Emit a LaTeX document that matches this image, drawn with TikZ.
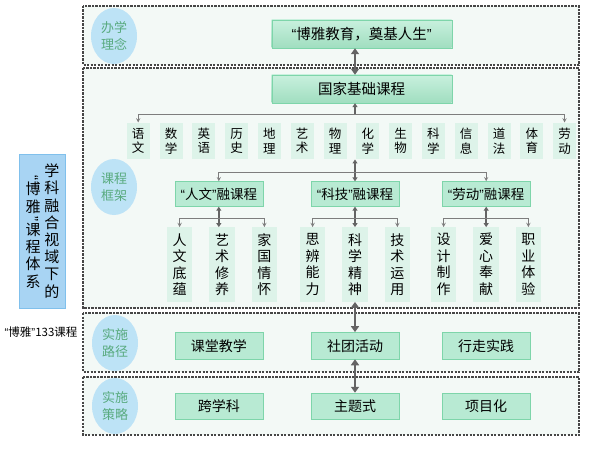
\documentclass[tikz,border=0pt]{standalone}
\usepackage{fontspec}
\setmainfont{Noto Sans CJK SC}
\newfontfamily\quotefont{Liberation Sans}
\usetikzlibrary{shapes.geometric, arrows.meta, positioning}
\definecolor{panelbg}{RGB}{243, 249, 246}
\definecolor{panelline}{RGB}{70, 70, 70}
\definecolor{boxfill}{RGB}{184, 234, 211}
\definecolor{boxline}{RGB}{126, 213, 170}
\definecolor{toplight}{RGB}{200, 240, 221}
\definecolor{topdark}{RGB}{160, 222, 192}
\definecolor{itemfill}{RGB}{221, 243, 233}
\definecolor{bubblefill}{RGB}{189, 227, 246}
\definecolor{bubbletext}{RGB}{88, 170, 126}
\definecolor{labelfill}{RGB}{168, 212, 243}
\definecolor{labelline}{RGB}{128, 192, 236}
\definecolor{linkgray}{RGB}{125, 125, 125}
\definecolor{fatgray}{RGB}{100, 100, 100}
\newcommand{\qopen}{{\quotefont “}}
\newcommand{\qclose}{{\quotefont ”}}

\begin{document}
\begin{tikzpicture}[
			x=1pt, y=-1pt,
			panel/.style={draw=panelline, fill=panelbg, line width=1.3pt, dash pattern=on 2.4pt off 1.1pt},
			bubble/.style={ellipse, fill=bubblefill, text=bubbletext, minimum width=46pt, minimum height=56pt, inner sep=0pt, align=center, font=\fontsize{13}{16.5}\selectfont},
			headbox/.style={rectangle, draw=boxline, top color=toplight, bottom color=topdark, minimum width=180pt, minimum height=28pt, inner sep=0pt, font=\fontsize{14.5}{16}\selectfont},
			fusebox/.style={rectangle, draw=boxline, fill=boxfill, minimum width=88pt, minimum height=25pt, inner sep=0pt, font=\fontsize{13.5}{16}\selectfont},
			pathbox/.style={fusebox, minimum height=26.7pt, font=\fontsize{14}{16}\selectfont},
			subject/.style={rectangle, fill=itemfill, minimum width=23pt, minimum height=36.6pt, inner sep=0pt, align=center, font=\fontsize{12.5}{14.5}\selectfont},
			itembox/.style={rectangle, fill=itemfill, minimum width=25.5pt, minimum height=74.4pt, inner sep=0pt, align=center, font=\fontsize{14}{16.5}\selectfont},
			link/.style={draw=linkgray, line width=0.9pt, ->, >=stealth},
			mid/.style={draw=fatgray, line width=1.6pt, {Triangle[length=4pt, width=5pt]}-{Triangle[length=4pt, width=5pt]}},
			midup/.style={draw=fatgray, line width=1.6pt, {Triangle[length=4pt, width=5pt]}-},
			fat/.style={draw=fatgray, line width=2.6pt, {Triangle[length=6pt, width=8pt]}-{Triangle[length=6pt, width=8pt]}}
			]
			\useasboundingbox (0,0) rectangle (598,452);
			
			% Panels
			\draw[panel] (83,6) rectangle (579,65);
			\draw[panel] (83,68) rectangle (579,308);
			\draw[panel] (83,313) rectangle (579,372);
			\draw[panel] (83,377) rectangle (579,435);
			
			% Left title
			\node[rectangle, draw=labelline, fill=labelfill, minimum width=45.4pt, minimum height=154pt] (tix) at (42,231) {};
			\node[align=center, font=\fontsize{15}{17.2}\selectfont] (tix1) at (52,231) {学\\科\\融\\合\\视\\域\\下\\的};
			\node[align=center, font=\fontsize{15}{17.2}\selectfont] (tix2) at (33,232) {\rotatebox[origin=c]{-90}{\qopen}\\[-6pt]博\\雅\\[-5pt]\rotatebox[origin=c]{-90}{\qclose}\\[-6pt]课\\程\\体\\系};
			\node[font=\fontsize{11.5}{14}\selectfont] (n133) at (41,332) {\qopen 博雅\qclose 133课程};
			
			% Bubbles
			\node[bubble] (bx) at (114,36) {办学\\理念};
			\node[bubble] (kc) at (114,187) {课程\\框架};
			\node[bubble] (lj) at (115,343) {实施\\路径};
			\node[bubble] (cl) at (115,406) {实施\\策略};
			
			% Level 1
			\node[headbox] (ln) at (361.7,34) {\qopen 博雅教育，奠基人生\qclose};
			\node[headbox] (gjkc) at (361.7,89) {国家基础课程};
			
			% Subjects
			\node[subject] (yw) at (138.2,141) {语\\文};
			\node[subject, right=9.4pt of yw] (sx) {数\\学};
			\node[subject, right=9.4pt of sx] (yy) {英\\语};
			\node[subject, right=9.4pt of yy] (ls) {历\\史};
			\node[subject, right=9.4pt of ls] (dl) {地\\理};
			\node[subject, right=9.4pt of dl] (ys) {艺\\术};
			\node[subject, right=9.4pt of ys] (wl) {物\\理};
			\node[subject, right=9.4pt of wl] (hx) {化\\学};
			\node[subject, right=9.4pt of hx] (sw) {生\\物};
			\node[subject, right=9.4pt of sw] (kx) {科\\学};
			\node[subject, right=9.4pt of kx] (xx) {信\\息};
			\node[subject, right=9.4pt of xx] (df) {道\\法};
			\node[subject, right=9.4pt of df] (ty) {体\\育};
			\node[subject, right=9.4pt of ty] (ld) {劳\\动};
			
			% Fused courses
			\node[fusebox] (rw) at (218.8,194) {\qopen 人文\qclose 融课程};
			\node[fusebox] (kj) at (355,194) {\qopen 科技\qclose 融课程};
			\node[fusebox] (ldk) at (486.2,194) {\qopen 劳动\qclose 融课程};
			
			\node[itembox] (yxxy) at (222,264.5) {艺\\术\\修\\养};
			\node[itembox, left=16.5pt of yxxy] (rwdy) {人\\文\\底\\蕴};
			\node[itembox, right=16.5pt of yxxy] (jgqh) {家\\国\\情\\怀};
			\node[itembox] (kxjs) at (355,264.5) {科\\学\\精\\神};
			\node[itembox, left=16.5pt of kxjs] (sbnl) {思\\辨\\能\\力};
			\node[itembox, right=16.5pt of kxjs] (jsyy) {技\\术\\运\\用};
			\node[itembox] (axfx) at (486,264.5) {爱\\心\\奉\\献};
			\node[itembox, left=16.5pt of axfx] (sjzz) {设\\计\\制\\作};
			\node[itembox, right=16.5pt of axfx] (zyty) {职\\业\\体\\验};
			
			% Paths and strategies
			\node[pathbox] (ktjx) at (218.8,345.7) {课堂教学};
			\node[pathbox] (stdh) at (355,345.7) {社团活动};
			\node[pathbox] (xzsj) at (486.2,345.7) {行走实践};
			\node[pathbox] (kxk) at (218.8,406.3) {跨学科};
			\node[pathbox] (zts) at (355,406.3) {主题式};
			\node[pathbox] (xmh) at (486.2,406.3) {项目化};
			
			% Arrows
			\draw[fat] (ln.south -| kj.north) -- (gjkc.north -| kj.north);
			\path (gjkc.south -| kj.north) ++(0,11) coordinate (j1);
			\draw[midup] (gjkc.south -| j1) -- (j1);
			\draw[link] (j1) -| (yw.north);
			\draw[link] (j1) -| (ld.north);
			
			\draw[mid] (hx.south -| kj.north) -- (kj.north);
			\path (kj.north) ++(0,-8.4) coordinate (j2);
			\draw[link] (j2) -| (rw.north);
			\draw[link] (j2) -| (ldk.north);
			
			\path (rw.south) ++(0,11.6) coordinate (r1);
			\draw[mid] (rw.south) -- (rw.south |- yxxy.north);
			\draw[link] (r1) -| (rwdy.north);
			\draw[link] (r1) -| (jgqh.north);
			
			\path (kj.south) ++(0,11.6) coordinate (k1);
			\draw[mid] (kj.south) -- (kxjs.north);
			\draw[link] (k1) -| (sbnl.north);
			\draw[link] (k1) -| (jsyy.north);
			
			\path (ldk.south) ++(0,11.6) coordinate (l1);
			\draw[mid] (ldk.south) -- (ldk.south |- axfx.north);
			\draw[link] (l1) -| (sjzz.north);
			\draw[link] (l1) -| (zyty.north);
			
			\draw[fat] (kxjs.south) -- (stdh.north);
			\draw[fat] (stdh.south) -- (zts.north);
		\end{tikzpicture}
\end{document}
